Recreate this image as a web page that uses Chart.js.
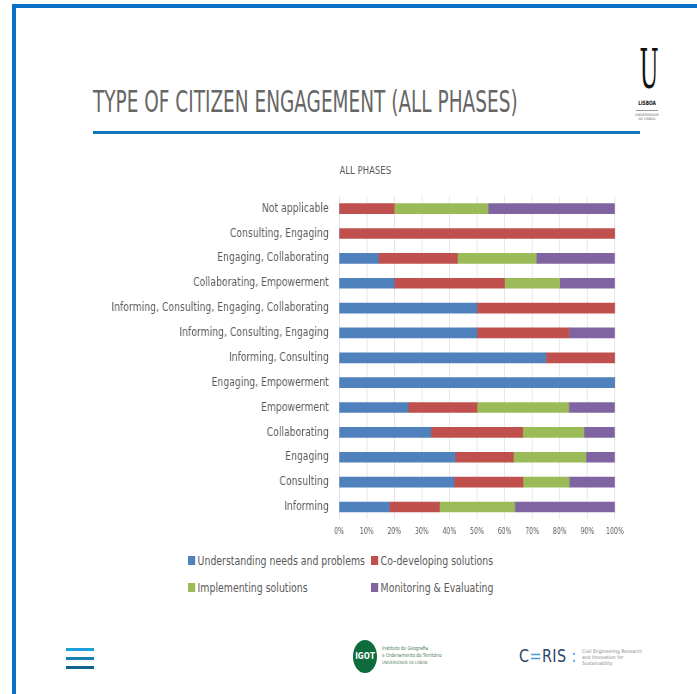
<!DOCTYPE html>
<html>
<head>
<meta charset="utf-8">
<script src="https://cdn.jsdelivr.net/npm/chart.js@4.4.1/dist/chart.umd.min.js"></script>
<style>
  html, body { margin: 0; padding: 0; background: #fff; }
  body { width: 697px; height: 694px; position: relative; overflow: hidden;
         font-family: 'DejaVu Sans Condensed', sans-serif; }
  .frame { position: absolute; left: 12px; top: 4px; width: 700px; height: 720px;
           border-left: 4px solid #0a72c6; border-top: 4px solid #0a72c6; }
  .squeeze { transform-origin: 0 0; display: inline-block; white-space: nowrap; }
  .title { position: absolute; left: 93px; top: 84px; font-size: 30px; color: #666;
           transform: scaleX(0.685); }
  .rule { position: absolute; left: 93px; top: 131px; width: 547px; height: 3px; background: #1476b8; }
  .ulogo { position: absolute; left: 629px; top: 44px; width: 36px; text-align: center; color: #111; }
  .ulogo .u { font-family: 'DejaVu Serif', serif; font-size: 54px; line-height: 52px;
              transform: scaleX(0.42); }
  .ulogo .lis { font-size: 6px; font-weight: bold; margin-top: 3px; transform: scaleX(0.8); }
  .ulogo .ln { width: 22px; height: 1px; background: #999; margin: 4px auto 2px; }
  .ulogo .small { font-size: 3.5px; line-height: 4px; color: #666; }
  #wrap { position: absolute; left: 100px; top: 151px; width: 617px; height: 397px;
          transform: scaleX(0.86); transform-origin: 0 0; }
  .legend { position: absolute; left: 188px; top: 553px; font-size: 13px; color: #595959; }
  .legend div { position: absolute; white-space: nowrap; transform: scaleX(0.8); transform-origin: 0 0; }
  .legend span { display: inline-block; width: 9px; height: 9px; margin-right: 3px; vertical-align: 0px; }
  .burger { position: absolute; left: 66px; width: 28px; height: 3px; }
  .igot { position: absolute; left: 353px; top: 640px; width: 24px; height: 33px; border-radius: 50%;
          background: #0d6b3c; color: #fff; font-weight: bold; font-size: 8px; line-height: 33px; text-align: center; }
  .igtxt { position: absolute; left: 382px; top: 645px; font-size: 5.5px; line-height: 7px; color: #4f7a5b;
           transform: scaleX(0.85); transform-origin: 0 0; }
  .ceris { position: absolute; left: 519px; top: 645px; font-size: 18px; letter-spacing: 0.5px; color: #2a4566;
           font-family: 'DejaVu Sans', sans-serif; transform: scaleX(0.8); transform-origin: 0 0; }
  .cerist { position: absolute; left: 582px; top: 648px; font-size: 5px; line-height: 6px; color: #8a8a8a; }
</style>
</head>
<body>
<div class="frame"></div>
<div class="title squeeze">TYPE OF CITIZEN ENGAGEMENT (ALL PHASES)</div>
<div class="rule"></div>
<div class="ulogo">
  <div class="u">U</div>
  <div class="lis">LISBOA</div>
  <div class="ln"></div>
  <div class="small">UNIVERSIDADE<br>DE LISBOA</div>
</div>

<div id="wrap"><canvas id="myChart"></canvas></div>

<div class="legend" id="legend"></div>

<div class="burger" style="top:648px;background:#1ea0db"></div>
<div class="burger" style="top:657px;background:#1681b8"></div>
<div class="burger" style="top:666px;background:#11628f"></div>

<div class="igot">IGOT</div>
<div class="igtxt">Instituto de Geografia<br>e Ordenamento do Território<br><span style="font-size:4.5px">UNIVERSIDADE DE LISBOA</span></div>
<div class="ceris">C<span style="color:#3fa0d8">=</span>RIS <span style="color:#3fa0d8">:</span></div>
<div class="cerist">Civil Engineering Research<br>and Innovation for<br>Sustainability</div>

<script>
var FONT = "'DejaVu Sans Condensed', sans-serif";

var categories = [
  "Not applicable",
  "Consulting, Engaging",
  "Engaging, Collaborating",
  "Collaborating, Empowerment",
  "Informing, Consulting, Engaging, Collaborating",
  "Informing, Consulting, Engaging",
  "Informing, Consulting",
  "Engaging, Empowerment",
  "Empowerment",
  "Collaborating",
  "Engaging",
  "Consulting",
  "Informing"
];

var seriesNames = [
  "Understanding needs and problems",
  "Co-developing solutions",
  "Implementing solutions",
  "Monitoring & Evaluating"
];

// percentages
var understanding = [0, 0, 14.3, 20, 50, 50, 75, 100, 25, 33.3, 42.1, 41.7, 18.2];
var codeveloping  = [20, 100, 28.6, 40, 50, 33.3, 25, 0, 25, 33.3, 21.1, 25, 18.2];
var implementing  = [34, 0, 28.6, 20, 0, 0, 0, 0, 33.3, 22.2, 26.3, 16.7, 27.3];
var monitoring    = [46, 0, 28.5, 20, 0, 16.7, 0, 0, 16.7, 11.2, 10.5, 16.6, 36.3];

var tickValues = [0, 10, 20, 30, 40, 50, 60, 70, 80, 90, 100];

var colors = ["#4f81bd", "#c0504d", "#9bbb59", "#8064a2"];
var values = [understanding, codeveloping, implementing, monitoring];

var datasets = [];
for (var i = 0; i < seriesNames.length; i++) {
  datasets.push({
    label: seriesNames[i],
    data: values[i],
    backgroundColor: colors[i],
    barThickness: 10
  });
}

const config = {
  type: "bar",
  data: { labels: categories, datasets: datasets },
  options: {
    indexAxis: "y",
    responsive: true,
    maintainAspectRatio: false,
    animation: false,
    layout: { padding: { top: 0, bottom: 3, right: 0, left: 0 } },
    plugins: {
      legend: false,
      tooltip: { enabled: false },
      title: {
        display: true,
        text: "ALL PHASES",
        color: "#595959",
        font: { family: FONT, size: 11, weight: "normal" },
        padding: { top: 14, bottom: 18 }
      }
    },
    scales: {
      x: {
        stacked: true,
        min: 0,
        max: 100,
        afterBuildTicks: function (s) {
          s.ticks = tickValues.map(function (v) { return { value: v }; });
        },
        grid: { color: "#e3e3e3", drawTicks: false },
        border: { display: false },
        ticks: {
          padding: 8,
          color: "#595959",
          font: { family: FONT, size: 8 },
          callback: function (v) { return v + "%"; }
        }
      },
      y: {
        stacked: true,
        afterFit: function (s) { s.width = 278; },
        grid: { display: false, drawTicks: false },
        border: { display: false },
        ticks: {
          padding: 12,
          color: "#595959",
          font: { family: FONT, size: 12 }
        }
      }
    }
  }
};

const myChart = new Chart(document.getElementById("myChart"), config);

// legend laid out as a two by two grid like the original
var legendPos = [[0, 0], [183, 0], [0, 27], [183, 27]];
var legendHtml = "";
for (var j = 0; j < seriesNames.length; j++) {
  legendHtml += '<div style="left:' + legendPos[j][0] + 'px;top:' + legendPos[j][1] + 'px">' +
    '<span style="background:' + colors[j] + '"></span>' + seriesNames[j] + '</div>';
}
document.getElementById("legend").innerHTML = legendHtml;
</script>
</body>
</html>
